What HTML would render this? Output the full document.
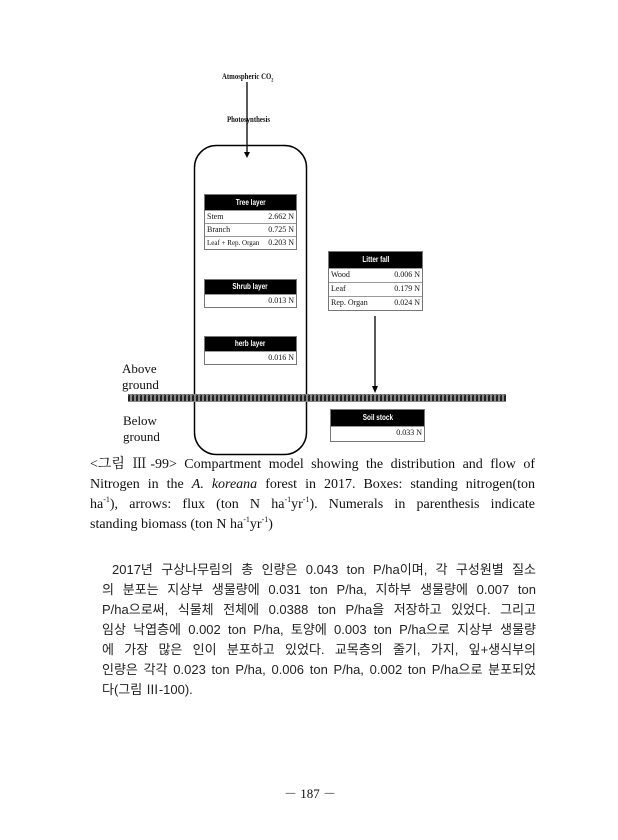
<!DOCTYPE html>
<html><head><meta charset="utf-8">
<style>
*{margin:0;padding:0;box-sizing:border-box}
body{width:618px;height:840px;background:#fff;position:relative;overflow:hidden;font-family:"Liberation Serif","Noto Serif CJK SC","Noto Sans CJK KR",serif;color:#111}
.a{position:absolute}
.box{position:absolute;border:1px solid #777;background:#fff;font-family:"Liberation Serif",serif;font-size:8px}
.hd{background:#000;color:#fff;font-family:"Liberation Sans",sans-serif;font-weight:bold;font-size:8px;text-align:center}
.hd span{display:inline-block;transform:scaleX(.8)}
.row{display:flex;justify-content:space-between;border-top:1px solid #999;padding:0 2px;height:13px;line-height:12px}
.ln{position:absolute;font-size:14px;line-height:18px;text-align:justify;text-align-last:justify;white-space:nowrap}
.ln2{position:absolute;font-size:13px;line-height:18px;text-align:justify;text-align-last:justify;white-space:nowrap;font-family:"Liberation Sans","Noto Sans CJK KR",sans-serif;color:#222}
sup{font-size:8px;vertical-align:6px;line-height:0}
</style></head><body>
<div class="a" style="left:222px;top:72px;font-size:8px;font-weight:bold;font-family:'Liberation Serif',serif;transform:scaleX(.85);transform-origin:left">Atmospheric CO<sub style="font-size:5px">2</sub></div>
<div class="a" style="left:227px;top:115px;font-size:8px;font-weight:bold;transform:scaleX(.85);transform-origin:left">Photosynthesis</div>
<svg class="a" style="left:0;top:0" width="618" height="460">
<line x1="247" y1="82" x2="247" y2="152" stroke="#000" stroke-width="1.3"/>
<polygon points="244,152 250,152 247,158" fill="#000"/>
<rect x="194.5" y="145.5" width="112" height="309" rx="22" fill="none" stroke="#000" stroke-width="1.5"/>
<line x1="375" y1="316" x2="375" y2="386" stroke="#000" stroke-width="1.3"/>
<polygon points="372,386 378,386 375,393" fill="#000"/>
<rect x="128" y="394" width="378" height="8" fill="#888"/>
<line x1="128" y1="398" x2="506" y2="398" stroke="#222" stroke-width="6" stroke-dasharray="2 2"/>
<line x1="128" y1="395" x2="506" y2="395" stroke="#555" stroke-width="2" stroke-dasharray="1 3"/>
</svg>
<div class="box" style="left:204px;top:194px;width:93px"><div class="hd" style="height:15px;line-height:15px"><span>Tree layer</span></div>
<div class="row"><span>Stem</span><span>2.662 N</span></div><div class="row"><span>Branch</span><span>0.725 N</span></div><div class="row"><span style="font-size:7px">Leaf + Rep. Organ</span><span>0.203 N</span></div></div>
<div class="box" style="left:204px;top:279px;width:93px"><div class="hd" style="height:14px;line-height:14px"><span>Shrub layer</span></div><div class="row" style="justify-content:flex-end"><span>0.013 N</span></div></div>
<div class="box" style="left:204px;top:336px;width:93px"><div class="hd" style="height:14px;line-height:14px"><span>herb layer</span></div><div class="row" style="justify-content:flex-end"><span>0.016 N</span></div></div>
<div class="box" style="left:328px;top:251px;width:95px"><div class="hd" style="height:16px;line-height:16px"><span>Litter fall</span></div>
<div class="row" style="height:14px"><span>Wood</span><span>0.006 N</span></div><div class="row" style="height:14px"><span>Leaf</span><span>0.179 N</span></div><div class="row" style="height:14px"><span>Rep. Organ</span><span>0.024 N</span></div></div>
<div class="box" style="left:330px;top:409px;width:95px"><div class="hd" style="height:16px;line-height:16px"><span>Soil stock</span></div><div class="row" style="justify-content:flex-end;height:15px"><span>0.033 N</span></div></div>
<div class="a" style="left:122px;top:361px;font-size:13px;line-height:16px">Above<br>ground</div>
<div class="a" style="left:123px;top:413px;font-size:13px;line-height:16px">Below<br>ground</div>
<div class="ln" style="left:90px;top:456px;width:445px">&lt;그림 Ⅲ-99&gt; Compartment model showing the distribution and flow of</div>
<div class="ln" style="left:90px;top:476px;width:445px">Nitrogen in the <i>A. koreana</i> forest in 2017. Boxes: standing nitrogen(ton</div>
<div class="ln" style="left:90px;top:496px;width:445px">ha<sup>-1</sup>), arrows: flux (ton N ha<sup>-1</sup>yr<sup>-1</sup>). Numerals in parenthesis indicate</div>
<div class="ln" style="left:90px;top:516px;width:200px;text-align-last:left">standing biomass (ton N ha<sup>-1</sup>yr<sup>-1</sup>)</div>
<div class="ln2" style="left:112px;top:561px;width:424px">2017년 구상나무림의 총 인량은 0.043 ton P/ha이며, 각 구성원별 질소</div>
<div class="ln2" style="left:102px;top:581px;width:434px">의 분포는 지상부 생물량에 0.031 ton P/ha, 지하부 생물량에 0.007 ton</div>
<div class="ln2" style="left:102px;top:601px;width:434px">P/ha으로써, 식물체 전체에 0.0388 ton P/ha을 저장하고 있었다. 그리고</div>
<div class="ln2" style="left:102px;top:621px;width:434px">임상 낙엽층에 0.002 ton P/ha, 토양에 0.003 ton P/ha으로 지상부 생물량</div>
<div class="ln2" style="left:102px;top:641px;width:434px">에 가장 많은 인이 분포하고 있었다. 교목층의 줄기, 가지, 잎+생식부의</div>
<div class="ln2" style="left:102px;top:661px;width:434px">인량은 각각 0.023 ton P/ha, 0.006 ton P/ha, 0.002 ton P/ha으로 분포되었</div>
<div class="ln2" style="left:102px;top:681px;width:200px;text-align-last:left">다(그림 Ⅲ-100).</div>
<div class="a" style="left:284px;top:783px;font-size:13px">－ 187 －</div>
</body></html>
